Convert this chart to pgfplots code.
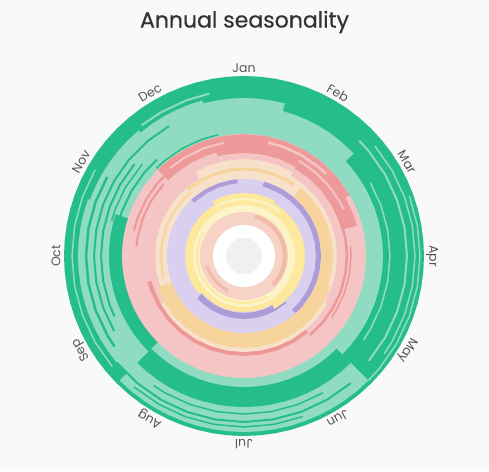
\documentclass[border=0pt]{standalone}
\usepackage{fontspec}
\setmainfont{Poppins}
\newfontfamily\titlefont{Poppins}[FakeBold=0.5]
\usepackage{pgfplots}
\usepackage{pgfplotstable}
\pgfplotsset{compat=1.18}
\usepgfplotslibrary{polar}
\definecolor{bg}{HTML}{F9F9FB}
\definecolor{dg}{HTML}{25BD8B}
\definecolor{lg}{HTML}{8FDCC2}
\definecolor{sal}{HTML}{EF9A9A}
\definecolor{pk}{HTML}{F5C5C5}
\definecolor{redl}{HTML}{EE9797}
\definecolor{pch}{HTML}{F8E1CA}
\definecolor{org}{HTML}{F6D49B}
\definecolor{lav}{HTML}{D9CFEE}
\definecolor{pur}{HTML}{AE9CD9}
\definecolor{yel}{HTML}{FCE99D}
\definecolor{lyel}{HTML}{FDF3C8}
\definecolor{cpk}{HTML}{F6D3C6}
\definecolor{cdk}{HTML}{F1BBA7}
\definecolor{wht}{HTML}{FFFFFF}
\definecolor{gry}{HTML}{F0F0F2}
\definecolor{txt}{HTML}{333333}
\definecolor{lbl}{HTML}{555555}

\pgfplotstableread{
theta rA rE rJ rL rM rN rO
90 180 122 77 51 44 31 18
85 180 122 77 51 44 31 18
80 180 122 77 51 44 31 18
75 180 122 77 51 44 31 18
70 180 122 77 51 44 31 18
65 180 122 77 51 44 31 18
60 180 122 77 51 44 31 18
55 180 122 77 51 44 31 18
50 180 122 77 51 44 31 18
45 180 122 77 51 44 31 18
40 180 122 77 51 44 31 18
35 180 122 77 51 44 31 18
30 180 122 77 51 44 31 18
25 180 122 77 51 44 31 18
20 180 122 77 51 44 31 18
15 180 122 77 51 44 31 18
10 180 122 77 51 44 31 18
5 180 122 77 51 44 31 18
0 180 122 77 51 44 31 18
-5 180 122 77 51 44 31 18
-10 180 122 77 51 44 31 18
-15 180 122 77 51 44 31 18
-20 180 122 77 51 44 31 18
-25 180 122 77 51 44 31 18
-30 180 122 77 51 44 31 18
-35 180 122 77 51 44 31 18
-40 180 122 77 51 44 31 18
-45 180 122 77 51 44 31 18
-50 180 122 77 51 44 31 18
-55 180 122 77 51 44 31 18
-60 180 122 77 51 44 31 18
-65 180 122 77 51 44 31 18
-70 180 122 77 51 44 31 18
-75 180 122 77 51 44 31 18
-80 180 122 77 51 44 31 18
-85 180 122 77 51 44 31 18
-90 180 122 77 51 44 31 18
-95 180 122 77 51 44 31 18
-100 180 122 77 51 44 31 18
-105 180 122 77 51 44 31 18
-110 180 122 77 51 44 31 18
-115 180 122 77 51 44 31 18
-120 180 122 77 51 44 31 18
-125 180 122 77 51 44 31 18
-130 180 122 77 51 44 31 18
-135 180 122 77 51 44 31 18
-140 180 122 77 51 44 31 18
-145 180 122 77 51 44 31 18
-150 180 122 77 51 44 31 18
-155 180 122 77 51 44 31 18
-160 180 122 77 51 44 31 18
-165 180 122 77 51 44 31 18
-170 180 122 77 51 44 31 18
-175 180 122 77 51 44 31 18
-180 180 122 77 51 44 31 18
-185 180 122 77 51 44 31 18
-190 180 122 77 51 44 31 18
-195 180 122 77 51 44 31 18
-200 180 122 77 51 44 31 18
-205 180 122 77 51 44 31 18
-210 180 122 77 51 44 31 18
-215 180 122 77 51 44 31 18
-220 180 122 77 51 44 31 18
-225 180 122 77 51 44 31 18
-230 180 122 77 51 44 31 18
-235 180 122 77 51 44 31 18
-240 180 122 77 51 44 31 18
-245 180 122 77 51 44 31 18
-250 180 122 77 51 44 31 18
-255 180 122 77 51 44 31 18
-260 180 122 77 51 44 31 18
-265 180 122 77 51 44 31 18
-270 180 122 77 51 44 31 18
}\circles

\begin{document}
\begin{tikzpicture}
\fill[bg] (-244pt,-215pt) rectangle (245pt,256pt);
\node[font=\titlefont\fontsize{22}{26}\selectfont, text=txt] at (0.5pt,234pt) {Annual seasonality};
\begin{polaraxis}[at={(0,0)}, anchor=center, width=360pt, height=360pt, scale only axis,
  xmin=-270, xmax=90, ymin=0, ymax=180, hide axis, clip=false, no markers,
  layer/.style={draw=none, fill=#1},
  arc/.style 2 args={draw=#1, line width=#2pt, fill=none}]
% green
\addplot[layer=dg] table[x=theta,y=rA]{\circles};
\addplot[layer=lg] coordinates {(90,158) (85,158) (80,158) (75,158) (75,150) (70,150) (65,150) (60,150) (55,150) (50,150) (45,150) (43,150) (43,139) (40,139) (35,139) (30,139) (25,139) (20,139) (15,139) (10,139) (5,139) (0,139) (-5,139) (-10,139) (-15,139) (-20,139) (-25,139) (-30,139) (-35,139) (-40,139) (-45,139) (-45,176) (-50,176) (-55,176) (-60,176) (-65,176) (-70,176) (-75,176) (-80,176) (-85,176) (-90,176) (-95,176) (-100,176) (-105,176) (-110,176) (-115,176) (-120,176) (-125,176) (-130,176) (-135,176) (-135,166) (-140,166) (-145,166) (-150,166) (-155,166) (-160,166) (-165,166) (-170,166) (-175,166) (-180,166) (-185,166) (-190,166) (-195,166) (-200,166) (-200,164) (-205,164) (-210,164) (-215,164) (-220,164) (-225,164) (-230,164) (-230,161) (-235,161) (-240,161) (-245,161) (-250,161) (-255,161) (-255,158) (-260,158) (-265,158) (-270,158)};
\addplot[layer=dg] coordinates {(90,120) (30,120) (-30,120) (-45,120) (-45,151) (-50,151) (-55,151) (-60,151) (-65,151) (-70,151) (-75,151) (-80,151) (-85,151) (-90,151) (-95,151) (-100,151) (-105,151) (-110,151) (-115,151) (-120,151) (-125,151) (-130,151) (-135,151) (-135,135) (-140,135) (-145,135) (-150,135) (-155,135) (-160,135) (-165,135) (-170,135) (-175,135) (-180,135) (-185,135) (-190,135) (-195,135) (-198,135) (-198,120) (-234,120) (-270,120)};
\addplot[layer=lg] coordinates {(90,120) (30,120) (-30,120) (-45,120) (-45,131) (-50,131) (-55,131) (-60,131) (-65,131) (-70,131) (-75,131) (-80,131) (-85,131) (-90,131) (-95,131) (-100,131) (-105,131) (-110,131) (-115,131) (-120,131) (-125,131) (-130,131) (-135,131) (-135,120) (-180,120) (-225,120) (-270,120)};
% green stripes
\addplot[arc={lg}{2}] coordinates {(-232,166) (-240,166) (-250,166) (-258,166)};
\addplot[arc={lg}{1.5}] coordinates {(30,146) (20,146) (10,146) (0,146) (-10,146) (-20,146) (-30,146) (-35,146)};
\addplot[arc={lg}{2}] coordinates {(45,163) (40,163) (30,163) (20,163) (10,163) (0,163) (-10,163) (-20,163) (-30,163) (-40,163)};
\addplot[arc={lg}{1.5}] coordinates {(40,171) (30,171) (20,171) (10,171) (0,171) (-10,171) (-20,171) (-30,171) (-35,171)};
\addplot[arc={lg}{1.5}] coordinates {(20,176) (10,176) (0,176) (-10,176) (-20,176) (-30,176) (-40,176) (-45,176)};
\addplot[arc={lg}{1.5}] coordinates {(-140,172) (-150,172) (-160,172) (-170,172) (-180,172) (-190,172) (-200,172) (-210,172)};
\addplot[arc={dg}{1.5}] coordinates {(-60,158) (-70,158) (-80,158) (-90,158) (-100,158) (-110,158) (-120,158) (-125,158)};
\addplot[arc={dg}{2}] coordinates {(-50,166) (-60,166) (-70,166) (-80,166) (-90,166) (-100,166) (-110,166) (-120,166) (-130,166) (-140,166)};
\addplot[arc={dg}{1.5}] coordinates {(-70,171) (-80,171) (-90,171) (-100,171) (-110,171) (-120,171) (-130,171)};
\addplot[arc={dg}{2.5}] coordinates {(-145,158) (-150,158) (-160,158) (-170,158) (-180,158) (-190,158) (-200,158) (-210,158)};
\addplot[arc={dg}{2}] coordinates {(-150,150) (-160,150) (-170,150) (-180,150) (-190,150) (-200,150) (-210,150) (-220,150) (-230,150) (-240,150)};
\addplot[arc={dg}{2}] coordinates {(-155,143) (-160,143) (-170,143) (-180,143) (-190,143) (-200,143) (-210,143) (-220,143)};
\addplot[arc={dg}{2}] coordinates {(-198,130) (-200,130) (-210,130) (-220,130) (-228,130)};
\addplot[arc={dg}{1.5}] coordinates {(-195,137) (-200,137) (-210,137) (-222,137)};
\addplot[arc={dg}{1.5}] coordinates {(-225,124) (-230,124) (-240,124) (-250,124) (-258,124)};
% pink / salmon
\addplot[layer=pk] table[x=theta,y=rE]{\circles};
\addplot[layer=sal] coordinates {(90,122) (80,122) (70,122) (60,122) (50,122) (40,122) (30,122) (30,117) (20,117) (15,117) (15,95) (-30,95) (-90,95) (-150,95) (-210,95) (-225,95) (-225,122) (-230,122) (-240,122) (-250,122) (-260,122) (-270,122)};
\addplot[layer=pk] coordinates {(90,103) (80,103) (70,103) (60,103) (60,101) (50,101) (40,101) (30,101) (20,101) (15,101) (15,100) (-30,100) (-90,100) (-150,100) (-210,100) (-225,100) (-225,107) (-230,107) (-240,107) (-250,107) (-255,107) (-255,103) (-260,103) (-270,103)};
\addplot[arc={pk}{2.5}] coordinates {(78,116) (70,116) (60,116) (50,116) (45,116)};
\addplot[arc={pk}{2}] coordinates {(60,110) (50,110) (40,110) (30,110) (25,110)};
\addplot[arc={pk}{2}] coordinates {(-230,115) (-240,115) (-250,115) (-260,115)};
\addplot[arc={redl}{4}] coordinates {(-50,98) (-60,98) (-70,98) (-80,98) (-90,98) (-100,98) (-110,98) (-120,98) (-130,98) (-140,98) (-150,98) (-160,98) (-165,98)};
\addplot[arc={redl}{2.5}] coordinates {(30,103) (20,103) (10,103) (0,103) (-10,103) (-20,103) (-30,103) (-40,103) (-50,103)};
\addplot[arc={redl}{1.5}] coordinates {(5,107) (0,107) (-10,107) (-20,107) (-30,107) (-35,107)};
\addplot[arc={redl}{2}] coordinates {(-193,113) (-200,113) (-210,113) (-220,113) (-228,113)};
\addplot[arc={redl}{2}] coordinates {(-185,108) (-190,108) (-200,108) (-210,108) (-222,108)};
% peach / orange
\addplot[layer=pch] coordinates {(90,97) (80,97) (70,97) (60,97) (60,93) (50,93) (40,93) (30,93) (20,93) (10,93) (0,93) (-10,93) (-20,93) (-30,93) (-30,96) (-40,96) (-50,96) (-60,96) (-70,96) (-80,96) (-90,96) (-100,96) (-110,96) (-120,96) (-130,96) (-140,96) (-150,96) (-150,89) (-160,89) (-170,89) (-180,89) (-190,89) (-200,89) (-210,89) (-220,89) (-230,89) (-240,89) (-240,97) (-250,97) (-260,97) (-270,97)};
\addplot[layer=org] coordinates {(90,70) (50,70) (50,89) (40,89) (30,89) (20,89) (10,89) (0,89) (-10,89) (-20,89) (-20,92) (-30,92) (-40,92) (-50,92) (-60,92) (-70,92) (-80,92) (-90,92) (-100,92) (-110,92) (-120,92) (-130,92) (-140,92) (-150,92) (-160,92) (-160,70) (-215,70) (-270,70)};
\addplot[arc={org}{3}] coordinates {(-230,87) (-240,87) (-250,87) (-260,87) (-270,87) (80,87) (70,87) (60,87) (55,87)};
\addplot[arc={org}{2}] coordinates {(-165,83) (-170,83) (-180,83) (-190,83) (-200,83) (-210,83) (-220,83) (-230,83)};
% lavender / purple
\addplot[layer=lav] table[x=theta,y=rJ]{\circles};
\addplot[arc={pur}{5}] coordinates {(75,74.5) (70,74.5) (60,74.5) (50,74.5) (40,74.5) (30,74.5) (20,74.5) (10,74.5) (0,74.5) (-10,74.5) (-20,74.5) (-30,74.5) (-40,74.5) (-48,74.5)};
\addplot[arc={pur}{6}] coordinates {(-48,60) (-50,60) (-60,60) (-70,60) (-80,60) (-90,60) (-100,60) (-110,60) (-120,60) (-130,60) (-138,60)};
\addplot[arc={pur}{4}] coordinates {(-227,75) (-230,75) (-240,75) (-250,75) (-260,75) (-265,75)};
% yellow
\addplot[layer=yel] coordinates {(90,63) (80,63) (70,63) (60,63) (60,61) (50,61) (40,61) (30,61) (20,61) (10,61) (0,61) (-10,61) (-20,61) (-30,61) (-40,61) (-50,61) (-60,61) (-60,56) (-70,56) (-80,56) (-90,56) (-100,56) (-110,56) (-120,56) (-130,56) (-140,56) (-140,59) (-150,59) (-160,59) (-170,59) (-180,59) (-190,59) (-200,59) (-210,59) (-220,59) (-230,59) (-240,59) (-240,63) (-250,63) (-260,63) (-270,63)};
\addplot[arc={lyel}{2}] coordinates {(-240,57) (-250,57) (-260,57) (-270,57) (80,57) (70,57) (60,57) (50,57)};
\addplot[layer=lyel] table[x=theta,y=rL]{\circles};
\addplot[arc={yel}{2}] coordinates {(-60,47) (-70,47) (-80,47) (-90,47) (-100,47) (-110,47) (-120,47) (-130,47) (-140,47) (-150,47) (-160,47) (-170,47) (-180,47) (-190,47) (-200,47) (-210,47)};
% centre
\addplot[layer=cpk] table[x=theta,y=rM]{\circles};
\addplot[arc={cdk}{4}] coordinates {(75,41) (70,41) (60,41) (50,41) (40,41) (30,41) (20,41) (10,41) (0,41) (-10,41) (-20,41) (-30,41) (-40,41) (-45,41)};
\addplot[arc={cdk}{3}] coordinates {(-115,38) (-120,38) (-130,38) (-140,38) (-150,38) (-160,38) (-165,38)};
\addplot[layer=wht] table[x=theta,y=rN]{\circles};
\addplot[layer=gry] table[x=theta,y=rO]{\circles};
% month labels
\begin{scope}[every node/.style={font=\fontsize{12.5}{15}\selectfont, text=lbl}]
\node[rotate=0] at (axis cs:90,188) {Jan};
\node[rotate=-30] at (axis cs:60,188) {Feb};
\node[rotate=-60] at (axis cs:30,188) {Mar};
\node[rotate=-90] at (axis cs:0,188) {Apr};
\node[rotate=-120] at (axis cs:-30,188) {May};
\node[rotate=-150] at (axis cs:-60,188) {Jun};
\node[rotate=-180] at (axis cs:-90,188) {Jul};
\node[rotate=-210] at (axis cs:-120,188) {Aug};
\node[rotate=-240] at (axis cs:-150,188) {Sep};
\node[rotate=-270] at (axis cs:-180,188) {Oct};
\node[rotate=-300] at (axis cs:-210,188) {Nov};
\node[rotate=-330] at (axis cs:-240,188) {Dec};
\end{scope}
\end{polaraxis}
\end{tikzpicture}
\end{document}
